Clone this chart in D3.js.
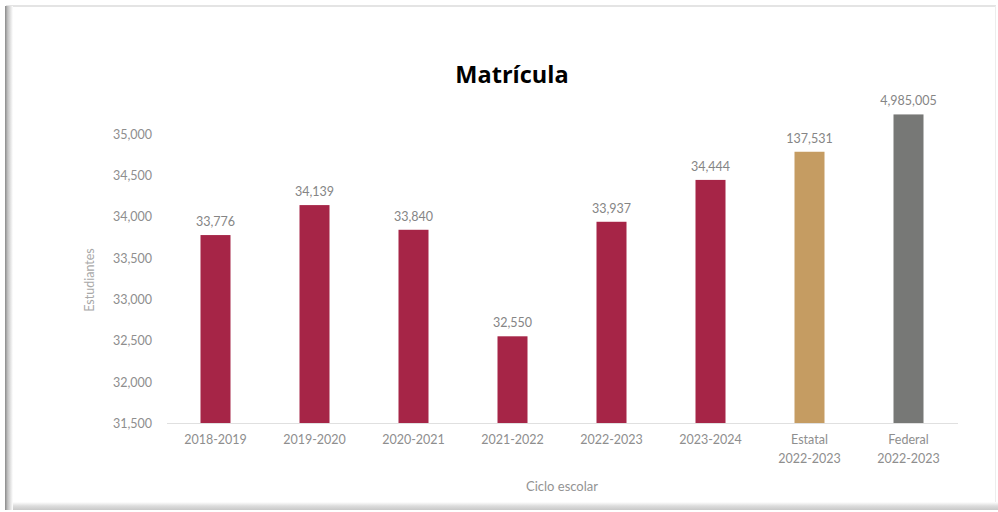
<!DOCTYPE html>
<html><head><meta charset="utf-8">
<script src="https://cdn.jsdelivr.net/npm/d3@7"></script>
<style>html,body{margin:0;padding:0;background:#fff;overflow:hidden}</style>
</head><body>
<svg id="c" width="998" height="512"></svg>
<script>
const categories = ["2018-2019","2019-2020","2020-2021","2021-2022","2022-2023","2023-2024","Estatal|2022-2023","Federal|2022-2023"];
const values = [33776, 34139, 33840, 32550, 33937, 34444, 137531, 4985005];
// Estatal and Federal are off-scale in the original; their bars are drawn at these display heights
const displayValues = [33776, 34139, 33840, 32550, 33937, 34444, 34785, 35237];
const barColors = ["#A62547","#A62547","#A62547","#A62547","#A62547","#A62547","#C59C62","#777876"];
const yTicks = [31500, 32000, 32500, 33000, 33500, 34000, 34500, 35000];

const svg = d3.select("#c");
const defs = svg.append("defs");
const gl = defs.append("linearGradient").attr("id","gl").attr("x1","0").attr("x2","1").attr("y1","0").attr("y2","0");
gl.append("stop").attr("offset","0").attr("stop-color","#8a8a8a");
gl.append("stop").attr("offset","0.35").attr("stop-color","#c4c4c4");
gl.append("stop").attr("offset","1").attr("stop-color","#ffffff");
const gb = defs.append("linearGradient").attr("id","gb").attr("x1","0").attr("x2","0").attr("y1","0").attr("y2","1");
gb.append("stop").attr("offset","0").attr("stop-color","#ffffff");
gb.append("stop").attr("offset","0.5").attr("stop-color","#dcdcdc");
gb.append("stop").attr("offset","1").attr("stop-color","#c8c8c8");

// frame
svg.append("rect").attr("x",6).attr("y",5).attr("width",990).attr("height",2).attr("fill","#e4e4e4");
svg.append("rect").attr("x",995).attr("y",6).attr("width",1).attr("height",500).attr("fill","#ededed");
svg.append("rect").attr("x",6).attr("y",502).attr("width",992).attr("height",8).attr("fill","url(#gb)");
svg.append("rect").attr("x",5).attr("y",6).attr("width",8).attr("height",504).attr("fill","url(#gl)");

const x = d3.scaleBand().domain(categories).range([166, 958]);
const y = d3.scaleLinear().domain([31500, 35000]).range([423, 134]);
const font = "Lato, 'Open Sans', sans-serif";
const barW = 30;

// title
svg.append("text").attr("x", 512).attr("y", 83).attr("text-anchor","middle")
  .attr("font-family","'Open Sans', Lato, sans-serif").attr("font-weight","bold").attr("font-size",23.5)
  .attr("fill","#000").text("Matrícula");

// y axis
const yAxis = svg.append("g").attr("transform","translate(152,0)")
  .call(d3.axisLeft(y).tickValues(yTicks).tickSize(0).tickPadding(0).tickFormat(d3.format(",")));
yAxis.select(".domain").remove();
yAxis.selectAll("text").attr("font-family",font).attr("font-size",12.5).attr("fill","#8e8e8e").attr("dy","0.35em");

// baseline
svg.append("line").attr("x1",167).attr("x2",958).attr("y1",y(31500)+0.5).attr("y2",y(31500)+0.5)
  .attr("stroke","#e0e0e0").attr("stroke-width",1);

// bars
svg.selectAll("rect.bar").data(categories).enter().append("rect").attr("class","bar")
  .attr("x", d => x(d) + x.bandwidth()/2 - barW/2)
  .attr("y", (d,i) => y(displayValues[i]))
  .attr("width", barW)
  .attr("height", (d,i) => y(31500) - y(displayValues[i]))
  .attr("fill", (d,i) => barColors[i]);

// value labels
svg.selectAll("text.val").data(categories).enter().append("text").attr("class","val")
  .attr("x", d => x(d) + x.bandwidth()/2)
  .attr("y", (d,i) => y(displayValues[i]) - 9)
  .attr("text-anchor","middle").attr("font-family",font).attr("font-size",12.5).attr("fill","#858585")
  .text((d,i) => d3.format(",")(values[i]));

// x axis labels
const xl = svg.selectAll("text.xl").data(categories).enter().append("text").attr("class","xl")
  .attr("x", d => x(d) + x.bandwidth()/2).attr("y", 444)
  .attr("text-anchor","middle").attr("font-family",font).attr("font-size",12.5).attr("fill","#8e8e8e");
xl.each(function(d){
  const parts = d.split("|");
  const t = d3.select(this);
  parts.forEach((p,k) => t.append("tspan").attr("x", x(d) + x.bandwidth()/2).attr("dy", k === 0 ? 0 : 19).text(p));
});

// axis titles
svg.append("text").attr("x", 562).attr("y", 491).attr("text-anchor","middle")
  .attr("font-family",font).attr("font-size",13).attr("fill","#939393").text("Ciclo escolar");
svg.append("text").attr("transform","translate(94,280) rotate(-90)").attr("text-anchor","middle")
  .attr("font-family",font).attr("font-size",12.5).attr("fill","#a8a8a8").text("Estudiantes");
</script>
</body></html>
